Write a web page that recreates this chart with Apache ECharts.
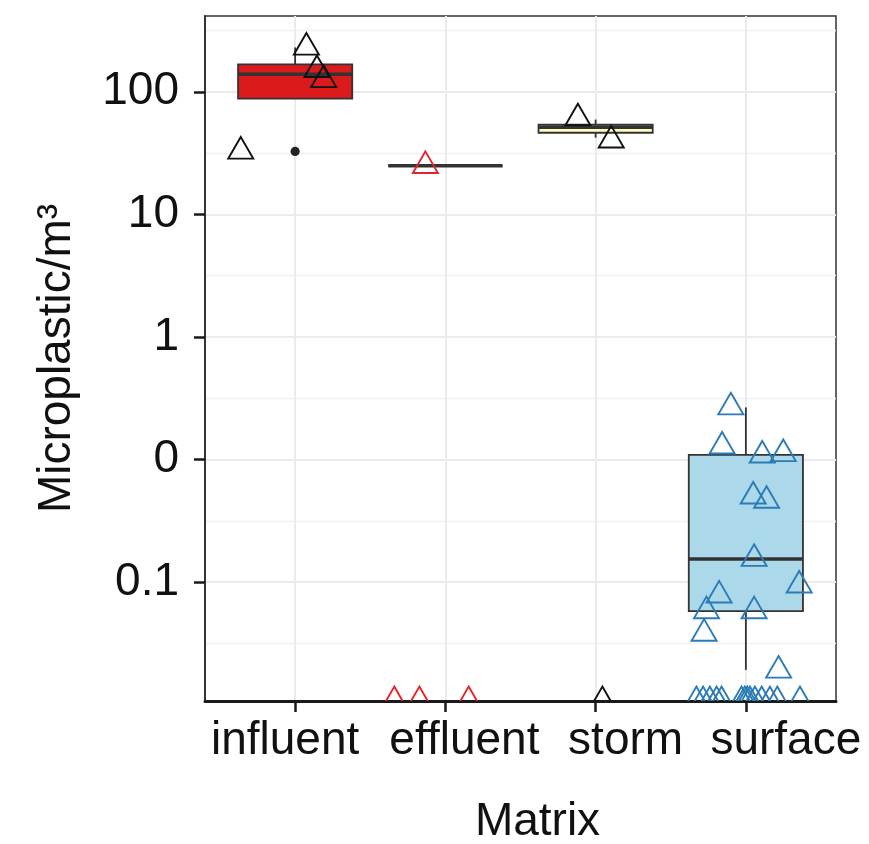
<!DOCTYPE html>
<html>
<head>
<meta charset="utf-8">
<title>Microplastic by matrix</title>
<script src="https://cdn.jsdelivr.net/npm/echarts@6/dist/echarts.min.js"></script>
<style>
  html, body { margin: 0; padding: 0; background: #fff; overflow: hidden; }
  #chart { width: 869px; height: 844px; }
</style>
</head>
<body>
<div id="chart"></div>
<script>
const categories = ['influent', 'effluent', 'storm', 'surface']
const boxFill = ['#db1a1c', '#fdae61', '#ffffbf', '#abd9e9']
const pointColor = ['#111111', '#e3242b', '#111111', '#2c7bb6']

// y axis (log10): ticks and their printed labels, minor grid at half decades
const yTickValues = [0.01, 0.1, 1, 10, 100]
const yTickLabels = ['0.1', '0', '1', '10', '100']
const yMinorValues = [0.00316, 0.0316, 0.316, 3.16, 31.6, 316]
const Y_MIN = 0.00107
const Y_MAX = 415

// box stats: [lower whisker, Q1, median, Q3, upper whisker]
const influentBox = [125, 88, 139, 167, 230]
const effluentBox = [24.9, 24.9, 24.9, 24.9, 24.9]
const stormBox = [42.2, 46.3, 51.3, 53.8, 59.3]
const surfaceBox = [0.00192, 0.00578, 0.0154, 0.109, 0.266]
const influentOutliers = [32.6]

// jittered points: offset from category centre + value (0 = not on log scale)
const influentJitter = [0.075, 0.145, 0.19, -0.362]
const influentValues = [230, 151, 125, 32.6]
const effluentJitter = [-0.133, -0.34, -0.173, 0.155]
const effluentValues = [24.9, 0, 0, 0]
const stormJitter = [-0.118, 0.104, 0.045]
const stormValues = [61, 40.2, 0]
const surfaceJitter = [-0.1, -0.158, 0.109, 0.249, 0.049, 0.138, 0.055, 0.355, -0.178, -0.262, 0.055, -0.278, 0.218,
  -0.329, -0.285, -0.24, -0.195, -0.162, -0.029, -0.007, 0.009, 0.027, 0.06, 0.105, 0.16, 0.209, 0.36]
const surfaceValues = [0.267, 0.128, 0.108, 0.111, 0.050, 0.0462, 0.0155, 0.0094, 0.0078, 0.0058, 0.0058, 0.0038, 0.0019,
  0, 0, 0, 0, 0, 0, 0, 0, 0, 0, 0, 0, 0, 0]

const FONT = '"Liberation Sans", Arial, sans-serif'
const TEXT = '#111111'
const BOX_W = 0.76
const TRI_W = 25
const TRI_H = 21.6

const boxes = [influentBox, effluentBox, stormBox, surfaceBox]
const jitters = [influentJitter, effluentJitter, stormJitter, surfaceJitter]
const values = [influentValues, effluentValues, stormValues, surfaceValues]

// zeros can't sit on a log axis: squish them to the bottom edge like ggplot does
function squish(v) {
  return v > 0 ? v : Y_MIN
}

function renderBox(params, api) {
  const x = api.value(0)
  const lo = api.coord([x, api.value(1)])
  const q1 = api.coord([x, api.value(2)])
  const med = api.coord([x, api.value(3)])
  const q3 = api.coord([x, api.value(4)])
  const hi = api.coord([x, api.value(5)])
  const cx = med[0]
  const half = api.coord([x + BOX_W / 2, api.value(3)])[0] - cx
  const line = { stroke: '#333333', lineWidth: 1.8 }
  return {
    type: 'group',
    children: [
      { type: 'line', shape: { x1: cx, y1: q3[1], x2: cx, y2: hi[1] }, style: line },
      { type: 'line', shape: { x1: cx, y1: q1[1], x2: cx, y2: lo[1] }, style: line },
      {
        type: 'rect',
        shape: { x: cx - half, y: q3[1], width: half * 2, height: q1[1] - q3[1] },
        style: { fill: boxFill[params.dataIndex], stroke: '#333333', lineWidth: 1.8 }
      },
      { type: 'line', shape: { x1: cx - half, y1: med[1], x2: cx + half, y2: med[1] }, style: { stroke: '#333333', lineWidth: 3.5 } }
    ]
  }
}

function triangleRenderer(color) {
  return function (params, api) {
    const p = api.coord([api.value(0), api.value(1)])
    return {
      type: 'polygon',
      shape: {
        points: [
          [p[0], p[1] - TRI_H * 2 / 3],
          [p[0] + TRI_W / 2, p[1] + TRI_H / 3],
          [p[0] - TRI_W / 2, p[1] + TRI_H / 3]
        ]
      },
      style: { fill: 'none', stroke: color, lineWidth: 1.9 }
    }
  }
}

const series = [{
  type: 'custom',
  name: 'box',
  z: 2,
  clip: true,
  encode: { x: 0, y: [1, 2, 3, 4, 5] },
  renderItem: renderBox,
  data: boxes.map((b, i) => [i].concat(b))
}, {
  type: 'custom',
  name: 'outliers',
  z: 3,
  clip: true,
  renderItem: function (params, api) {
    const p = api.coord([api.value(0), api.value(1)])
    return { type: 'circle', shape: { cx: p[0], cy: p[1], r: 4.6 }, style: { fill: '#222222' } }
  },
  data: influentOutliers.map(v => [0, v])
}]

for (let i = 0; i < categories.length; i++) {
  series.push({
    type: 'custom',
    name: categories[i],
    z: 4,
    clip: true,
    renderItem: triangleRenderer(pointColor[i]),
    data: values[i].map((v, k) => [i + jitters[i][k], squish(v)])
  })
}

const chart = echarts.init(document.getElementById('chart'))
chart.setOption({
  animation: false,
  backgroundColor: '#ffffff',
  textStyle: { fontFamily: FONT, color: TEXT },
  grid: {
    left: 205, right: 33, top: 16, bottom: 143,
    outerBoundsMode: 'none',
    containLabel: false,
    show: true, borderColor: '#333333', borderWidth: 1.5, backgroundColor: '#ffffff'
  },
  xAxis: {
    type: 'value',
    min: -0.6,
    max: 3.6,
    name: 'Matrix',
    nameLocation: 'middle',
    nameGap: 98,
    nameTextStyle: { fontSize: 46, color: TEXT, fontFamily: FONT, padding: [0, 0, 0, 34] },
    axisLine: { show: true, onZero: false, lineStyle: { color: '#1a1a1a', width: 3 } },
    axisTick: { show: true, length: 11, customValues: [0, 1, 2, 3], lineStyle: { color: '#1a1a1a', width: 2.5 } },
    axisLabel: {
      customValues: [0, 1, 2, 3],
      margin: 17,
      fontSize: 46,
      color: TEXT,
      formatter: function (v) {
        const i = Math.round(v)
        return '{c' + i + '|' + categories[i] + '}'
      },
      rich: {
        c0: { fontSize: 46, fontFamily: FONT, color: TEXT, padding: [0, 20, 0, 0] },
        c1: { fontSize: 46, fontFamily: FONT, color: TEXT, padding: [0, 0, 0, 38] },
        c2: { fontSize: 46, fontFamily: FONT, color: TEXT, padding: [0, 0, 0, 60] },
        c3: { fontSize: 46, fontFamily: FONT, color: TEXT, padding: [0, 0, 0, 80] }
      }
    },
    splitLine: { show: true, lineStyle: { color: '#ebebeb', width: 2 } }
  },
  yAxis: [{
    type: 'log',
    logBase: 10,
    min: Y_MIN,
    max: Y_MAX,
    name: 'Microplastic/m³',
    nameLocation: 'middle',
    nameGap: 125,
    nameTextStyle: { fontSize: 46, color: TEXT, fontFamily: FONT },
    axisLine: { show: true, onZero: false, lineStyle: { color: '#333333', width: 2 } },
    axisTick: { show: true, length: 11, customValues: yTickValues, lineStyle: { color: '#1a1a1a', width: 2.5 } },
    axisLabel: {
      customValues: yTickValues,
      margin: 26,
      fontSize: 46,
      color: TEXT,
      formatter: function (v) {
        const k = yTickValues.findIndex(t => Math.abs(Math.log10(t) - Math.log10(v)) < 0.01)
        return k >= 0 ? yTickLabels[k] : ''
      }
    },
    splitLine: { show: true, lineStyle: { color: '#ebebeb', width: 2 } }
  }, {
    type: 'log',
    logBase: 10,
    min: Y_MIN,
    max: Y_MAX,
    position: 'left',
    axisLine: { show: false, onZero: false },
    axisTick: { show: false, customValues: yMinorValues },
    axisLabel: { show: false, customValues: yMinorValues },
    splitLine: { show: true, lineStyle: { color: '#f2f2f2', width: 1.3 } }
  }],
  series: series
})
</script>
</body>
</html>
